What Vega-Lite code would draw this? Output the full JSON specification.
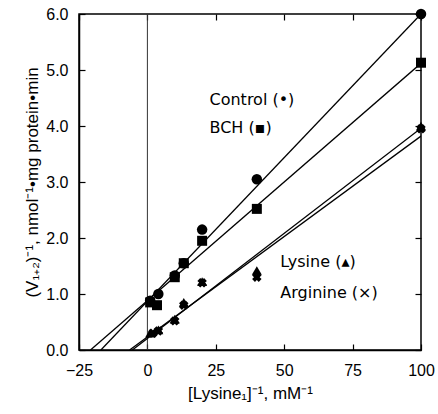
{
  "$schema": "https://vega.github.io/schema/vega-lite/v6.json",
  "width": 342,
  "height": 336,
  "autosize": {"type": "none"},
  "padding": {"left": 79, "top": 14, "right": 17, "bottom": 64},
  "background": "white",
  "config": {
    "view": {"stroke": "black", "strokeWidth": 1.5},
    "font": "Liberation Sans",
    "axis": {
      "domainColor": "black",
      "domainWidth": 1.5,
      "tickColor": "black",
      "tickWidth": 1.2,
      "tickSize": -6,
      "labelColor": "black",
      "titleColor": "black",
      "grid": false,
      "labelFont": "Liberation Sans",
      "titleFont": "Liberation Sans",
      "labelFontSize": 16,
      "titleFontSize": 17,
      "titleFontWeight": "normal"
    }
  },
  "datasets": {
    "points": [
      {"series": "Control", "x": 100, "y": 6.0},
      {"series": "Control", "x": 40, "y": 3.05},
      {"series": "Control", "x": 20, "y": 2.15},
      {"series": "Control", "x": 13.3, "y": 1.55},
      {"series": "Control", "x": 10, "y": 1.33},
      {"series": "Control", "x": 4, "y": 1.0},
      {"series": "Control", "x": 1, "y": 0.88},
      {"series": "BCH", "x": 100, "y": 5.13},
      {"series": "BCH", "x": 40, "y": 2.52},
      {"series": "BCH", "x": 20, "y": 1.95},
      {"series": "BCH", "x": 13.3, "y": 1.55},
      {"series": "BCH", "x": 10, "y": 1.3},
      {"series": "BCH", "x": 3.5, "y": 0.8},
      {"series": "BCH", "x": 1, "y": 0.85},
      {"series": "Lysine", "x": 100, "y": 4.0},
      {"series": "Lysine", "x": 40, "y": 1.42},
      {"series": "Lysine", "x": 20, "y": 1.22},
      {"series": "Lysine", "x": 13.3, "y": 0.85},
      {"series": "Lysine", "x": 10, "y": 0.55},
      {"series": "Lysine", "x": 4, "y": 0.36},
      {"series": "Lysine", "x": 1, "y": 0.3},
      {"series": "Arginine", "x": 100, "y": 3.95},
      {"series": "Arginine", "x": 40, "y": 1.3},
      {"series": "Arginine", "x": 20, "y": 1.2},
      {"series": "Arginine", "x": 13.3, "y": 0.8},
      {"series": "Arginine", "x": 10, "y": 0.52},
      {"series": "Arginine", "x": 4, "y": 0.34},
      {"series": "Arginine", "x": 2, "y": 0.3}
    ],
    "fits": [
      {"series": "Control", "x": -17, "y": 0},
      {"series": "Control", "x": 100, "y": 6.0},
      {"series": "BCH", "x": -20.8, "y": 0},
      {"series": "BCH", "x": 100, "y": 5.12},
      {"series": "Lysine", "x": -5.5, "y": 0},
      {"series": "Lysine", "x": 100, "y": 3.96},
      {"series": "Arginine", "x": -6.5, "y": 0},
      {"series": "Arginine", "x": 100, "y": 3.82}
    ],
    "labels": [
      {"text": "Control (•)", "x": 22.7, "y": 4.46},
      {"text": "BCH (▪)", "x": 22.7, "y": 3.96},
      {"text": "Lysine (▴)", "x": 48.6, "y": 1.57},
      {"text": "Arginine (×)", "x": 48.6, "y": 1.02}
    ]
  },
  "layer": [
    {
      "data": {"values": [{"x": 0}]},
      "mark": {"type": "rule", "color": "#333333", "strokeWidth": 1},
      "encoding": {
        "x": {
          "field": "x", "type": "quantitative",
          "scale": {"domain": [-25, 100], "nice": false, "zero": false},
          "axis": {"orient": "bottom", "values": [-25, 0, 25, 50, 75, 100], "title": "[Lysine₁]⁻¹, mM⁻¹", "labelPadding": 18, "titlePadding": 7, "labelFlush": false}
        }
      }
    },
    {
      "data": {"name": "fits"},
      "mark": {"type": "line", "color": "black", "strokeWidth": 1.3, "clip": true},
      "encoding": {
        "x": {
          "field": "x", "type": "quantitative",
          "scale": {"domain": [-25, 100], "nice": false, "zero": false},
          "axis": {"orient": "top", "values": [-25, 0, 25, 50, 75, 100], "labels": false, "title": null, "domain": false}
        },
        "y": {
          "field": "y", "type": "quantitative",
          "scale": {"domain": [0, 6], "nice": false, "zero": false},
          "axis": {"orient": "left", "values": [0, 1, 2, 3, 4, 5, 6], "format": ".1f", "title": "(V₁₊₂)⁻¹, nmol⁻¹•mg protein•min", "labelPadding": 17, "titlePadding": 4, "labelFlush": false}
        },
        "detail": {"field": "series"}
      }
    },
    {
      "data": {"name": "points"},
      "transform": [{"filter": "datum.series === 'Control'"}],
      "mark": {"type": "point", "shape": "circle", "filled": true, "color": "black", "opacity": 1, "size": 110},
      "encoding": {
        "x": {"field": "x", "type": "quantitative", "axis": null},
        "y": {
          "field": "y", "type": "quantitative",
          "axis": {"orient": "right", "values": [0, 1, 2, 3, 4, 5, 6], "labels": false, "title": null, "domain": false}
        }
      }
    },
    {
      "data": {"name": "points"},
      "transform": [{"filter": "datum.series === 'BCH'"}],
      "mark": {"type": "point", "shape": "square", "filled": true, "color": "black", "opacity": 1, "size": 100},
      "encoding": {
        "x": {"field": "x", "type": "quantitative", "axis": null},
        "y": {"field": "y", "type": "quantitative", "axis": null}
      }
    },
    {
      "data": {"name": "points"},
      "transform": [{"filter": "datum.series === 'Lysine'"}],
      "mark": {"type": "point", "shape": "triangle-up", "filled": true, "color": "black", "opacity": 1, "size": 100},
      "encoding": {
        "x": {"field": "x", "type": "quantitative", "axis": null},
        "y": {"field": "y", "type": "quantitative", "axis": null}
      }
    },
    {
      "data": {"name": "points"},
      "transform": [{"filter": "datum.series === 'Arginine'"}],
      "mark": {"type": "point", "shape": "M-1,-0.4L-0.4,-1L0,-0.6L0.4,-1L1,-0.4L0.6,0L1,0.4L0.4,1L0,0.6L-0.4,1L-1,0.4L-0.6,0Z", "filled": true, "color": "black", "opacity": 1, "size": 90},
      "encoding": {
        "x": {"field": "x", "type": "quantitative", "axis": null},
        "y": {"field": "y", "type": "quantitative", "axis": null}
      }
    },
    {
      "data": {"name": "labels"},
      "mark": {"type": "text", "align": "left", "baseline": "middle", "fontSize": 16, "font": "DejaVu Sans", "color": "black"},
      "encoding": {
        "x": {"field": "x", "type": "quantitative", "axis": null},
        "y": {"field": "y", "type": "quantitative", "axis": null},
        "text": {"field": "text"}
      }
    }
  ],
  "resolve": {"axis": {"x": "independent", "y": "independent"}}
}
